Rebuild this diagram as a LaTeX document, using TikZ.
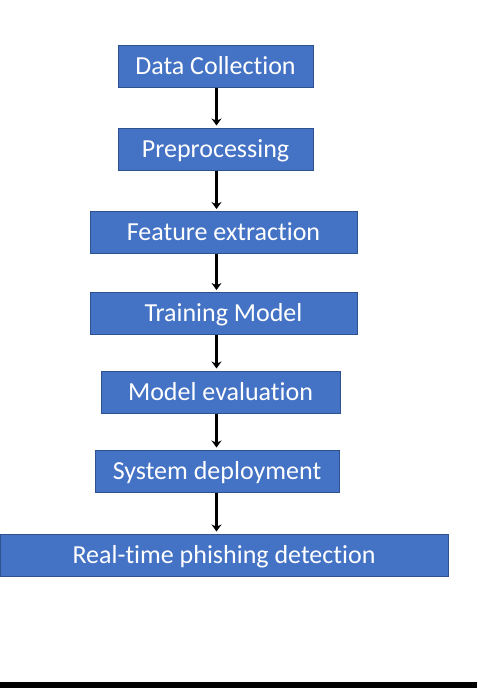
\documentclass[tikz,border=0pt]{standalone}
\usepackage{fontspec}
\setmainfont{Carlito}[Ligatures=NoCommon]
\usetikzlibrary{arrows.meta}
\definecolor{stepblue}{HTML}{4472C4}
\definecolor{stepedge}{HTML}{2F528F}
\begin{document}
\begin{tikzpicture}[x=1pt,y=-1pt,
                    stepbox/.style={draw=stepedge,line width=1pt,fill=stepblue,
                      text=white,minimum height=42pt,inner sep=0pt,
                      font=\fontsize{26}{31}\selectfont,
                      text height=16.5pt,text depth=0pt},
                    flow/.style={-{Stealth[length=7pt,width=10pt]},line width=2.6pt,shorten >=2pt}]
   \useasboundingbox (0,0) rectangle (477,688);

   \node[stepbox,minimum width=195pt] (collect) at (215.5,66) {Data Collection};
   \node[stepbox,minimum width=195pt] (prep)    at (215.5,149) {Preprocessing};
   \node[stepbox,minimum width=267pt] (feature) at (223.5,232.5) {Feature extraction};
   \node[stepbox,minimum width=267pt] (train)   at (223.5,313.5) {Training Model};
   \node[stepbox,minimum width=239pt] (eval)    at (220.5,392) {Model evaluation};
   \node[stepbox,minimum width=244pt] (deploy)  at (217,471) {System deployment};
   \node[stepbox,minimum width=448pt] (detect)  at (224,555) {Real-time phishing detection};

   % arrows between the steps
   \foreach \From/\To in {collect/prep,prep/feature,feature/train,train/eval,eval/deploy,deploy/detect}{%
     \draw[flow] (\From.south -| 216.5,0) -- (\To.north -| 216.5,0);
   }

   % black strip at the bottom
   \fill[black] (0,682) rectangle (477,688);
\end{tikzpicture}
\end{document}
